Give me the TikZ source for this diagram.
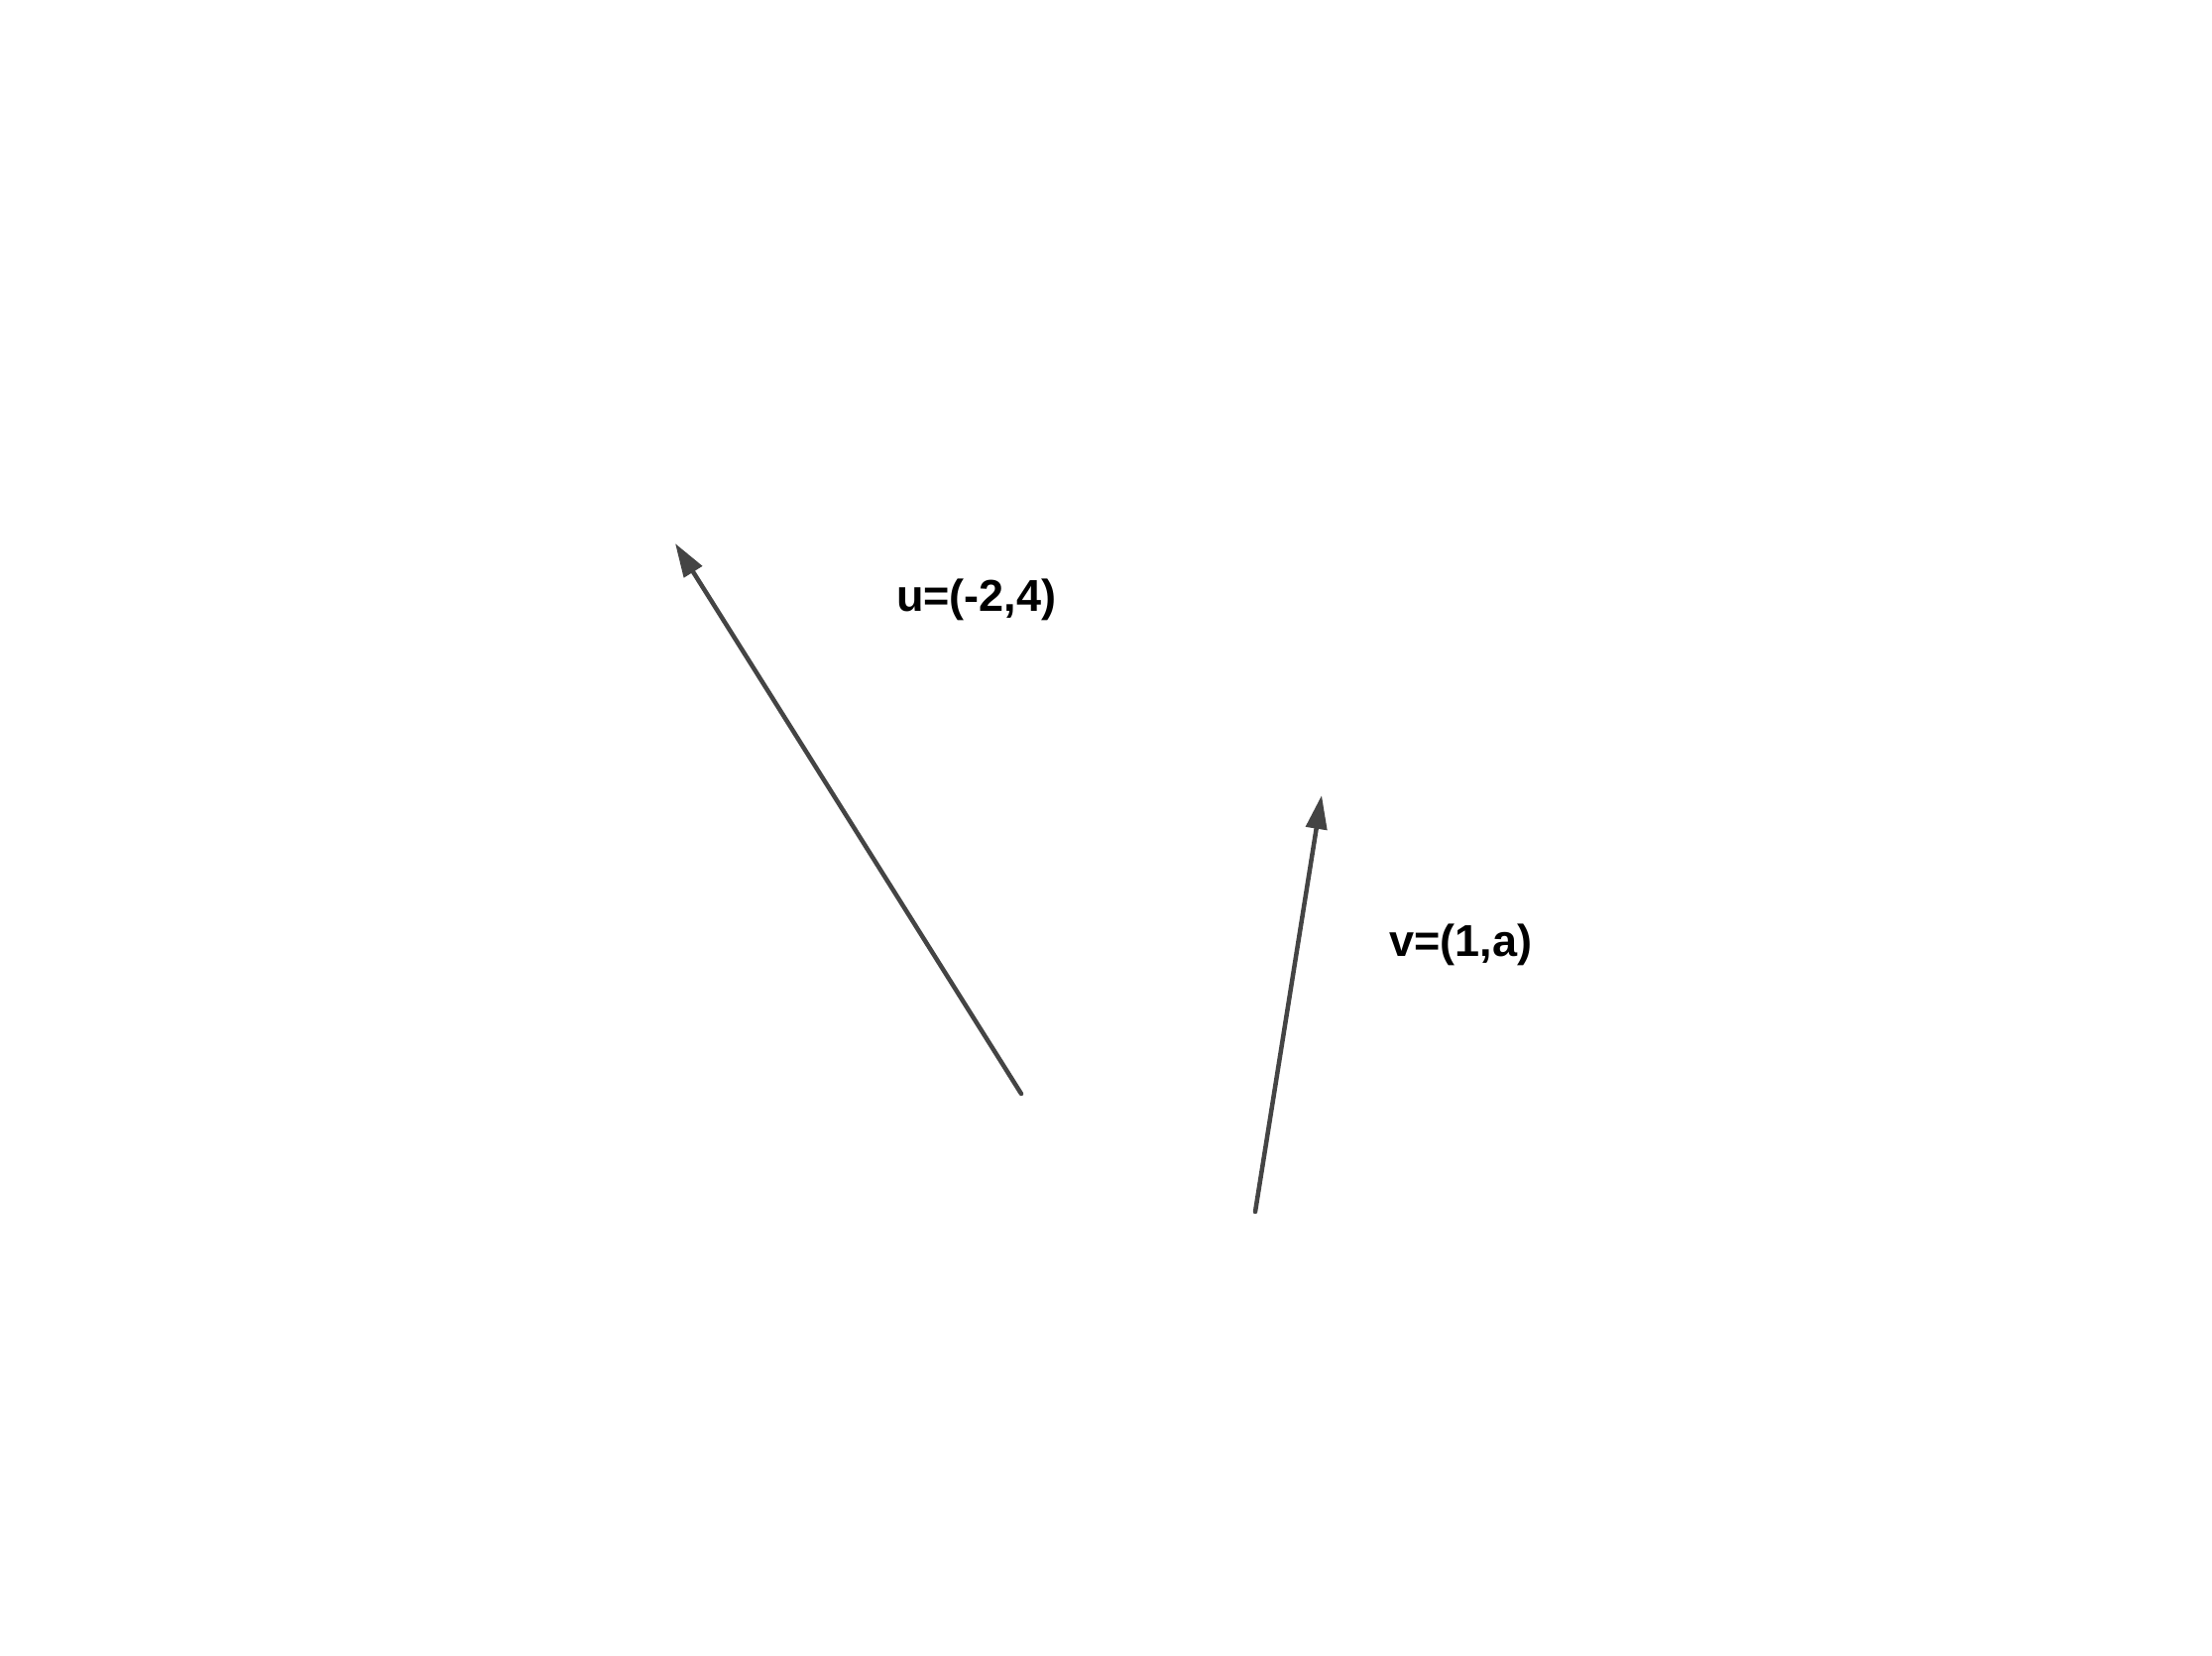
\documentclass[tikz,border=0pt]{standalone}
\usepackage{fontspec}
\setmainfont{Liberation Sans}
\usetikzlibrary{arrows.meta}
\definecolor{vec}{HTML}{444444}
\tikzset{
  vecline/.style={draw=vec, line width=4.5pt, line cap=round, -{Triangle[length=34pt,width=21pt]}},
  veclabel/.style={anchor=base west, inner sep=0pt, font=\fontsize{45}{52}\selectfont\bfseries, text=black}
}
\begin{document}
\begin{tikzpicture}[x=1pt,y=-1pt]
\useasboundingbox[fill=white] (0,0) rectangle (2231,1670);
\coordinate (u0) at (1030,1103);
\coordinate (u1) at (681,548);
\coordinate (v0) at (1266,1222);
\coordinate (v1) at (1333,802);
\draw[vecline] (u0) -- (u1);
\draw[vecline] (v0) -- (v1);
\node[veclabel] (ul) at (904,616) {u=(-2,4)};
\node[veclabel] (vl) at (1401,964) {v=(1,a)};
\end{tikzpicture}
\end{document}
